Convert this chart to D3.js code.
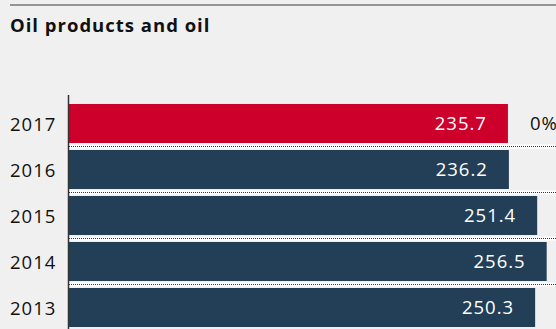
<html lang="en">
<head>
<meta charset="utf-8">
<title>Oil products and oil</title>
<style>
  body { margin: 0; background-color: #f0f0f0; font-family: "Open Sans", Lato, sans-serif; }
  svg { display: block; background-color: #f0f0f0; }
  .title { font-size: 18.5px; font-weight: bold; fill: #111; letter-spacing: 1px; }
  .year { font-size: 18.5px; fill: #111; letter-spacing: 1px; }
  .value { font-size: 18.5px; fill: white; text-anchor: end; letter-spacing: 1px; }
  .change { font-size: 18.5px; fill: #111; letter-spacing: 1px; }
</style>
</head>
<body>
<script src="https://cdnjs.cloudflare.com/ajax/libs/d3/7.8.5/d3.min.js"></script>
<script>
var years = ["2017", "2016", "2015", "2014", "2013"];
var values = [235.7, 236.2, 251.4, 256.5, 250.3];
var changes = ["0%", "", "", "", ""];
var highlightYear = "2017";

var fullwidth = 556, fullheight = 329;

var svg = d3.select("body").append("svg")
    .attr("width", fullwidth)
    .attr("height", fullheight);

// top rule + title
svg.append("line")
    .attr("x1", 10).attr("x2", fullwidth)
    .attr("y1", 5).attr("y2", 5)
    .attr("stroke", "#777").attr("stroke-width", 1.5);

svg.append("text")
    .attr("class", "title")
    .attr("x", 10).attr("y", 32)
    .text("Oil products and oil");

var xScale = d3.scaleLinear()
    .domain([0, 261.5])
    .range([69, 556]);

var yScale = d3.scaleBand()
    .domain(years)
    .range([104, 327])
    .paddingInner(0.152)
    .paddingOuter(0);

var rows = years.map(function(y, i) {
  return { year: y, value: values[i], change: changes[i] };
});

// separators between rows
var gapY = years.slice(1).map(function(y) {
  return yScale(y) - (yScale.step() - yScale.bandwidth()) / 2;
});

svg.selectAll("rect.sep")
    .data(gapY)
    .enter().append("rect")
    .attr("class", "sep")
    .attr("x", 69).attr("width", fullwidth - 69)
    .attr("y", function(d) { return d - 2; })
    .attr("height", 4)
    .attr("fill", "white");

svg.selectAll("line.sep")
    .data(gapY)
    .enter().append("line")
    .attr("class", "sep")
    .attr("x1", 69).attr("x2", fullwidth)
    .attr("y1", function(d) { return d; })
    .attr("y2", function(d) { return d; })
    .attr("stroke", "#333")
    .attr("stroke-width", 1)
    .attr("stroke-dasharray", "1,1");

svg.selectAll("rect.bar")
    .data(rows)
    .enter().append("rect")
    .attr("class", "bar")
    .attr("x", xScale(0))
    .attr("y", function(d) { return yScale(d.year); })
    .attr("width", function(d) { return xScale(d.value) - xScale(0); })
    .attr("height", yScale.bandwidth())
    .attr("fill", function(d) { return d.year === highlightYear ? "#cc002b" : "#233f57"; });

svg.selectAll("text.value")
    .data(rows)
    .enter().append("text")
    .attr("class", "value")
    .attr("x", function(d) { return xScale(d.value) - 21; })
    .attr("y", function(d) { return yScale(d.year) + yScale.bandwidth() / 2; })
    .attr("dy", "0.35em")
    .text(function(d) { return d.value.toFixed(1); });

svg.selectAll("text.year")
    .data(rows)
    .enter().append("text")
    .attr("class", "year")
    .attr("x", 10)
    .attr("y", function(d) { return yScale(d.year) + yScale.bandwidth() / 2 + 1; })
    .attr("dy", "0.35em")
    .text(function(d) { return d.year; });

svg.selectAll("text.change")
    .data(rows.filter(function(d) { return d.change !== ""; }))
    .enter().append("text")
    .attr("class", "change")
    .attr("x", 530)
    .attr("y", function(d) { return yScale(d.year) + yScale.bandwidth() / 2; })
    .attr("dy", "0.35em")
    .text(function(d) { return d.change; });

// axis line
svg.append("line")
    .attr("x1", 68.5).attr("x2", 68.5)
    .attr("y1", 95).attr("y2", fullheight)
    .attr("stroke", "#333").attr("stroke-width", 1.5);
</script>
</body>
</html>
